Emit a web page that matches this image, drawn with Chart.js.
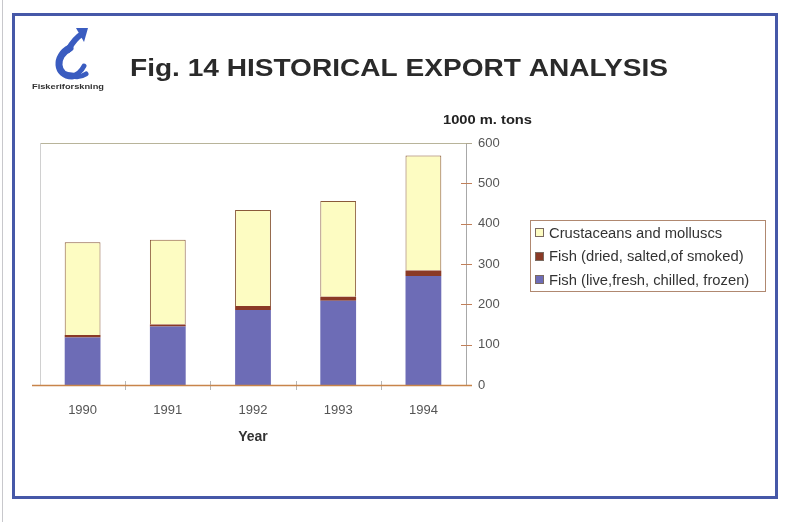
<!DOCTYPE html>
<html>
<head>
<meta charset="utf-8">
<script src="https://cdn.jsdelivr.net/npm/chart.js@4/dist/chart.umd.min.js"></script>
<style>
html,body{margin:0;padding:0;background:#fff;}
#wrap{position:relative;width:786px;height:522px;}
</style>
</head>
<body>
<div id="wrap"><canvas id="c" width="786" height="522"></canvas></div>
<script>
const years = ['1990', '1991', '1992', '1993', '1994'];
const fishFresh = [118, 145, 186, 209, 270];
const fishDried = [6, 5, 10, 10, 14];
const crustaceans = [230, 210, 238, 237, 285];
const seriesNames = ['Fish (live,fresh, chilled, frozen)', 'Fish (dried, salted,of smoked)', 'Crustaceans and molluscs'];
const yTicks = [0, 100, 200, 300, 400, 500, 600];
const titleText = 'Fig. 14 HISTORICAL EXPORT ANALYSIS';
const unitText = '1000 m. tons';
const xTitle = 'Year';
const logoText = 'Fiskeriforskning';

const FONT = '"Liberation Sans", Arial, Helvetica, sans-serif';

function fitText(ctx, text, x, y, width) {
  const w = ctx.measureText(text).width;
  ctx.save();
  ctx.translate(x, y);
  ctx.scale(width / w, 1);
  ctx.fillText(text, 0, 0);
  ctx.restore();
}

const decor = {
  id: 'decor',
  beforeDraw(chart) {
    const ctx = chart.ctx;
    const a = chart.chartArea;
    ctx.save();
    ctx.fillStyle = '#ffffff';
    ctx.fillRect(0, 0, chart.width, chart.height);
    ctx.strokeStyle = '#c8c8cc';
    ctx.lineWidth = 1;
    ctx.beginPath(); ctx.moveTo(2.5, 0); ctx.lineTo(2.5, 522); ctx.stroke();
    ctx.strokeStyle = '#4658a8';
    ctx.lineWidth = 3;
    ctx.strokeRect(13.5, 14.5, 763, 483);
    ctx.lineWidth = 1;
    ctx.strokeStyle = '#b8b49a';
    ctx.beginPath(); ctx.moveTo(a.left, a.top + 0.5); ctx.lineTo(a.right, a.top + 0.5); ctx.stroke();
    ctx.strokeStyle = '#d0d0d0';
    ctx.beginPath(); ctx.moveTo(a.left + 0.5, a.top); ctx.lineTo(a.left + 0.5, a.bottom); ctx.stroke();
    // title
    ctx.fillStyle = '#2a2a2a';
    ctx.font = 'bold 24px ' + FONT;
    ctx.textBaseline = 'middle';
    ctx.textAlign = 'left';
    fitText(ctx, titleText, 130, 69, 538);
    // unit label
    ctx.font = 'bold 12px ' + FONT;
    ctx.fillStyle = '#222';
    fitText(ctx, unitText, 443, 121, 89);
    // logo
    ctx.strokeStyle = '#3a5cc0';
    ctx.fillStyle = '#3a5cc0';
    ctx.lineCap = 'round';
    ctx.lineWidth = 7;
    ctx.beginPath();
    ctx.moveTo(70, 48);
    ctx.bezierCurveTo(54, 56, 56, 76, 72, 76);
    ctx.stroke();
    ctx.lineWidth = 6;
    ctx.beginPath();
    ctx.moveTo(68, 50);
    ctx.quadraticCurveTo(75, 38, 82, 34);
    ctx.stroke();
    ctx.beginPath();
    ctx.moveTo(76, 28); ctx.lineTo(88, 28); ctx.lineTo(84, 42); ctx.closePath(); ctx.fill();
    ctx.lineWidth = 5;
    ctx.beginPath();
    ctx.moveTo(72, 76);
    ctx.quadraticCurveTo(80, 74, 84, 66);
    ctx.stroke();
    ctx.beginPath();
    ctx.moveTo(72, 76);
    ctx.quadraticCurveTo(80, 78, 86, 74);
    ctx.stroke();
    ctx.font = 'bold 7px ' + FONT;
    ctx.fillStyle = '#333';
    fitText(ctx, logoText, 32, 87, 72);
    ctx.restore();
  },
  afterDraw(chart) {
    const ctx = chart.ctx;
    const a = chart.chartArea;
    const y = chart.scales.y;
    const x = chart.scales.x;
    ctx.save();
    ctx.lineWidth = 1;
    ctx.strokeStyle = '#a8a8a8';
    ctx.beginPath(); ctx.moveTo(a.right + 0.5, a.top); ctx.lineTo(a.right + 0.5, a.bottom); ctx.stroke();
    ctx.strokeStyle = '#c0805a';
    yTicks.forEach(v => {
      if (v === 0 || v === 600) return;
      const py = Math.round(y.getPixelForValue(v)) + 0.5;
      ctx.beginPath(); ctx.moveTo(a.right - 5, py); ctx.lineTo(a.right + 6, py); ctx.stroke();
    });
    const p6 = Math.round(y.getPixelForValue(600)) + 0.5;
    ctx.strokeStyle = '#b0a890';
    ctx.beginPath(); ctx.moveTo(a.right, p6); ctx.lineTo(a.right + 6, p6); ctx.stroke();
    ctx.strokeStyle = '#b8b8b8';
    for (let i = 1; i < years.length; i++) {
      const px = Math.round((x.getPixelForValue(i - 1) + x.getPixelForValue(i)) / 2) + 0.5;
      ctx.beginPath(); ctx.moveTo(px, a.bottom - 4); ctx.lineTo(px, a.bottom + 5); ctx.stroke();
    }
    ctx.strokeStyle = '#c8844a';
    ctx.lineWidth = 1.5;
    ctx.beginPath(); ctx.moveTo(a.left - 8, a.bottom + 0.5); ctx.lineTo(a.right + 6, a.bottom + 0.5); ctx.stroke();

    // custom legend (reversed dataset order)
    const ds = chart.data.datasets.slice().reverse();
    const lx = 530.5, lt = 220.5, lw = 235, lh = 71;
    ctx.lineWidth = 1;
    ctx.strokeStyle = '#b08870';
    ctx.strokeRect(lx, lt, lw, lh);
    ctx.font = '14px ' + FONT;
    ctx.textBaseline = 'middle';
    ctx.textAlign = 'left';
    ds.forEach((d, i) => {
      const cy = 233 + i * 23.5;
      ctx.fillStyle = d.backgroundColor;
      ctx.fillRect(535, Math.round(cy - 5), 9, 9);
      ctx.strokeStyle = '#7a6a60';
      ctx.strokeRect(535.5, Math.round(cy - 5) + 0.5, 8, 8);
      ctx.fillStyle = '#333';
      ctx.save();
      ctx.translate(549, cy + 1);
      ctx.scale(1.055, 1);
      ctx.fillText(d.label, 0, 0);
      ctx.restore();
    });
    ctx.restore();
  }
};

new Chart(document.getElementById('c'), {
  type: 'bar',
  data: {
    labels: years,
    datasets: [
      { label: seriesNames[0], data: fishFresh, backgroundColor: '#6d6cb6', borderColor: '#5e5ea8', borderWidth: 0, stack: 's' },
      { label: seriesNames[1], data: fishDried, backgroundColor: '#8a3a26', borderColor: '#8a3a26', borderWidth: 0, stack: 's' },
      { label: seriesNames[2], data: crustaceans, backgroundColor: '#fdfcc2', borderColor: '#8a5a3a', borderWidth: 1, stack: 's' }
    ]
  },
  options: {
    responsive: false,
    animation: false,
    devicePixelRatio: 1,
    layout: { padding: { left: 40, top: 143, right: 253, bottom: 76 } },
    datasets: { bar: { categoryPercentage: 0.42, barPercentage: 1.0 } },
    plugins: {
      title: { display: false },
      tooltip: { enabled: false },
      legend: { display: false }
    },
    scales: {
      x: {
        stacked: true,
        afterFit(scale) { scale.height = 61; },
        grid: { display: false, drawTicks: false },
        border: { display: false },
        ticks: { color: '#555', font: { family: FONT, size: 13 }, padding: 18 },
        title: { display: true, text: xTitle, color: '#333', font: { family: FONT, size: 14, weight: 'bold' }, padding: { top: 0, bottom: 0 } }
      },
      y: {
        stacked: true,
        position: 'right',
        min: 0, max: 600,
        afterBuildTicks(scale) { scale.ticks = yTicks.map(v => ({ value: v })); },
        afterFit(scale) { scale.width = 67; },
        grid: { display: false, drawTicks: false },
        border: { display: false },
        ticks: { color: '#555', font: { family: FONT, size: 13 }, padding: 12 }
      }
    }
  },
  plugins: [decor]
});
</script>
</body>
</html>
